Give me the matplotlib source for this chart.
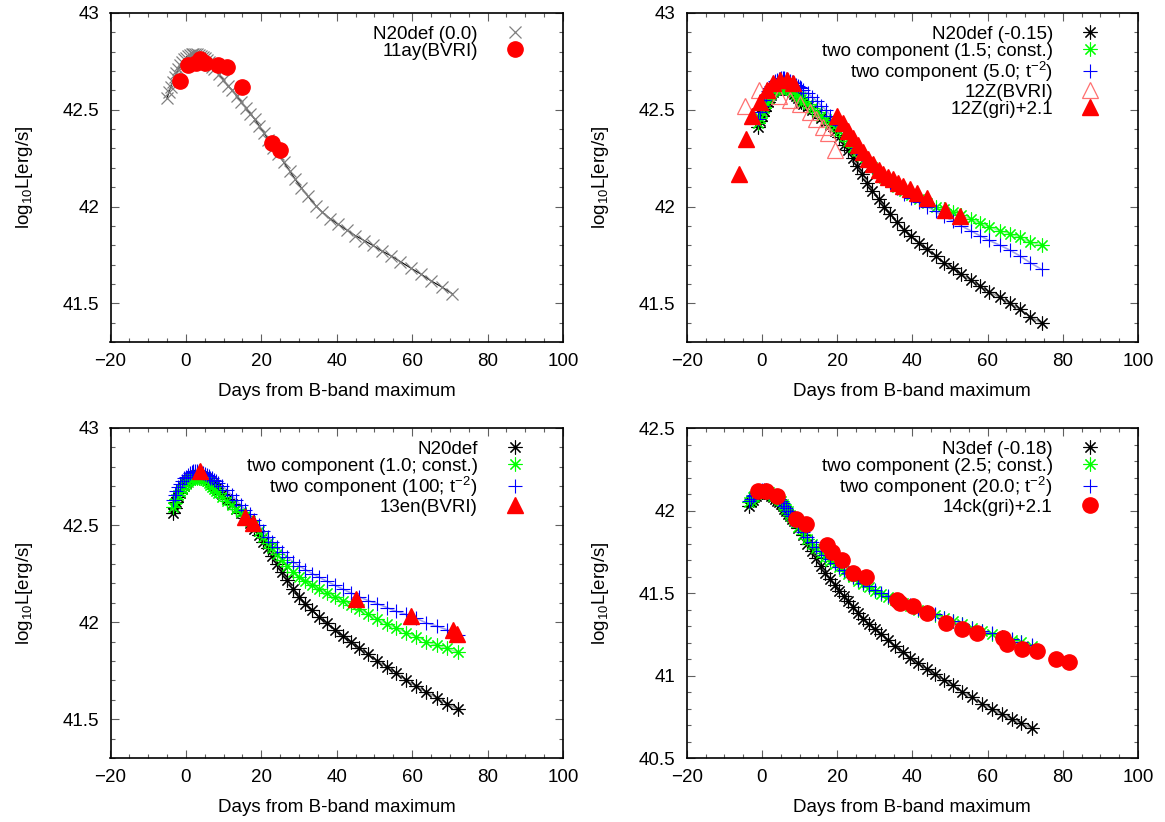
import matplotlib
matplotlib.use("Agg")
import matplotlib.pyplot as plt
from matplotlib.ticker import MultipleLocator, FuncFormatter

plt.rcParams['font.family'] = ['Liberation Sans', 'DejaVu Sans']
plt.rcParams['mathtext.fontset'] = 'custom'
plt.rcParams['mathtext.rm'] = 'Liberation Sans'
plt.rcParams['mathtext.it'] = 'Liberation Sans'
plt.rcParams['font.size'] = 13.5

# ---- panel 1: N20def vs SN 2011ay ----
t1 = [-5.0, -4.5, -4.0, -3.5, -3.0, -2.5, -2.0, -1.5, -1.0, -0.5, 0.0, 0.5, 1.0, 1.5,
      2.0, 2.5, 3.0, 3.5, 4.0, 4.5, 5.0, 5.5, 6.0, 6.5, 7.0, 7.5, 8.7, 9.9, 11.1, 12.3,
      13.5, 14.7, 15.9, 17.1, 18.3, 19.5, 20.7, 21.9, 23.2, 24.5, 25.9, 27.5, 29.0, 30.6,
      32.4, 34.4, 36.2, 38.2, 40.4, 42.7, 44.9, 47.3, 49.5, 52.0, 54.4, 56.9, 59.8, 62.4,
      65.1, 67.8, 70.6]
n20_p1 = [42.56, 42.59, 42.62, 42.645, 42.67, 42.69, 42.71, 42.73, 42.745, 42.76, 42.77,
          42.78, 42.785, 42.79, 42.79, 42.79, 42.79, 42.785, 42.78, 42.775, 42.765, 42.755,
          42.745, 42.73, 42.72, 42.71, 42.685, 42.655, 42.625, 42.60, 42.57, 42.54, 42.51,
          42.48, 42.45, 42.415, 42.38, 42.345, 42.305, 42.27, 42.23, 42.185, 42.14, 42.097,
          42.052, 42.005, 41.97, 41.938, 41.908, 41.878, 41.85, 41.824, 41.80, 41.77, 41.745,
          41.715, 41.68, 41.65, 41.615, 41.585, 41.55]
obs11ay_t = [-1.6, 0.6, 2.8, 3.7, 5.1, 8.6, 10.8, 15.0, 22.7, 24.9]
obs11ay_L = [42.65, 42.73, 42.74, 42.76, 42.74, 42.73, 42.72, 42.62, 42.33, 42.29]

# ---- panel 2: N20def / two component vs SN 2012Z ----
t2 = [-1.0, -0.5, 0.0, 0.5, 1.0, 1.5, 2.0, 2.5, 3.0, 3.5, 4.0, 4.5, 5.0, 5.5, 6.0, 6.5,
      7.0, 7.5, 8.0, 8.5, 9.0, 9.5, 10.0, 10.5, 11.0, 12.2, 13.4, 14.6, 15.8, 17.0, 18.2,
      19.4, 20.6, 21.8, 23.0, 24.2, 25.4, 26.7, 28.0, 29.4, 31.0, 32.5, 34.1, 35.9, 37.9,
      39.7, 41.7, 43.9, 46.2, 48.4, 50.8, 53.0, 55.5, 57.9, 60.4, 63.3, 65.9, 68.6, 71.3,
      74.4]
n20_p2 = [42.41, 42.44, 42.47, 42.495, 42.52, 42.54, 42.56, 42.575, 42.59, 42.60, 42.605,
          42.61, 42.615, 42.615, 42.615, 42.61, 42.605, 42.60, 42.59, 42.58, 42.57, 42.56,
          42.55, 42.54, 42.53, 42.52, 42.50, 42.48, 42.46, 42.44, 42.42, 42.39, 42.36,
          42.32, 42.29, 42.25, 42.21, 42.17, 42.12, 42.08, 42.04, 42.00, 41.96, 41.92,
          41.88, 41.85, 41.81, 41.78, 41.745, 41.71, 41.68, 41.65, 41.62, 41.59, 41.56,
          41.53, 41.50, 41.47, 41.43, 41.40]
const_p2 = [42.43, 42.46, 42.49, 42.51, 42.535, 42.555, 42.57, 42.585, 42.595, 42.605,
            42.61, 42.615, 42.62, 42.62, 42.62, 42.615, 42.61, 42.605, 42.60, 42.59, 42.58,
            42.57, 42.565, 42.555, 42.545, 42.53, 42.51, 42.49, 42.47, 42.45, 42.43, 42.415,
            42.39, 42.365, 42.34, 42.31, 42.285, 42.26, 42.23, 42.205, 42.175, 42.15, 42.125,
            42.10, 42.08, 42.06, 42.04, 42.02, 42.0, 41.985, 41.97, 41.955, 41.935, 41.915,
            41.895, 41.875, 41.86, 41.84, 41.815, 41.80]
tm2_p2 = [42.45, 42.49, 42.52, 42.55, 42.575, 42.595, 42.61, 42.625, 42.64, 42.65, 42.655,
          42.66, 42.665, 42.665, 42.665, 42.66, 42.655, 42.65, 42.645, 42.64, 42.63, 42.625,
          42.62, 42.61, 42.60, 42.585, 42.565, 42.545, 42.52, 42.50, 42.47, 42.445, 42.42,
          42.39, 42.36, 42.33, 42.30, 42.27, 42.24, 42.21, 42.18, 42.15, 42.12, 42.095,
          42.065, 42.045, 42.025, 42.0, 41.975, 41.95, 41.925, 41.90, 41.875, 41.85, 41.825,
          41.80, 41.775, 41.745, 41.71, 41.675]
obs12Z_bvri_t = [-4.5, -0.8, 4.5, 7.4, 10.1, 12.8, 14.5, 16.3, 17.7, 19.5]
obs12Z_bvri_L = [42.52, 42.60, 42.57, 42.55, 42.53, 42.49, 42.45, 42.41, 42.38, 42.29]
obs12Z_gri_t = [-6.2, -4.3, -2.7, -0.5, 1.3, 3.0, 4.8, 6.6, 8.3, 19.9, 21.5, 23.0, 24.3,
                25.6, 27.0, 28.3, 29.6, 31.0, 32.3, 33.6, 34.9, 36.3, 37.6, 39.4, 41.2,
                43.8, 48.7, 52.7]
obs12Z_gri_L = [42.17, 42.35, 42.47, 42.54, 42.60, 42.64, 42.655, 42.655, 42.64, 42.47,
                42.43, 42.39, 42.355, 42.32, 42.28, 42.245, 42.22, 42.19, 42.17, 42.155,
                42.14, 42.12, 42.105, 42.09, 42.07, 42.045, 41.98, 41.95]

# ---- panel 3: N20def / two component vs SN 2013en ----
t3 = [-3.5, -3.0, -2.5, -2.0, -1.5, -1.0, -0.5, 0.0, 0.5, 1.0, 1.5, 2.0, 2.5, 3.0, 3.5,
      4.0, 4.5, 5.0, 5.5, 6.0, 6.5, 7.0, 7.5, 8.0, 8.5, 9.7, 10.9, 12.1, 13.3, 14.5, 15.7,
      16.9, 18.1, 19.3, 20.5, 21.7, 22.9, 24.2, 25.5, 26.9, 28.4, 30.0, 31.7, 33.5, 35.4,
      37.4, 39.5, 41.6, 43.8, 46.0, 48.4, 50.8, 53.3, 55.8, 58.4, 61.1, 63.8, 66.5, 69.3,
      72.2]
n20_p3 = [42.56, 42.59, 42.62, 42.645, 42.665, 42.685, 42.70, 42.715, 42.73, 42.74, 42.75,
          42.755, 42.76, 42.76, 42.76, 42.755, 42.75, 42.745, 42.74, 42.73, 42.72, 42.71,
          42.70, 42.69, 42.68, 42.66, 42.635, 42.61, 42.585, 42.56, 42.535, 42.51, 42.48,
          42.45, 42.415, 42.38, 42.34, 42.30, 42.26, 42.215, 42.17, 42.13, 42.095, 42.06,
          42.025, 41.995, 41.96, 41.93, 41.90, 41.865, 41.835, 41.80, 41.77, 41.74, 41.70,
          41.67, 41.64, 41.61, 41.58, 41.55]
const_p3 = [42.595, 42.615, 42.635, 42.655, 42.67, 42.685, 42.70, 42.71, 42.72, 42.73,
            42.735, 42.74, 42.745, 42.745, 42.745, 42.74, 42.735, 42.73, 42.725, 42.715,
            42.705, 42.695, 42.685, 42.675, 42.665, 42.645, 42.625, 42.605, 42.585, 42.565,
            42.545, 42.52, 42.50, 42.47, 42.44, 42.41, 42.38, 42.35, 42.32, 42.29, 42.26,
            42.235, 42.21, 42.19, 42.17, 42.15, 42.13, 42.11, 42.09, 42.07, 42.04, 42.015,
            41.99, 41.97, 41.945, 41.925, 41.90, 41.88, 41.865, 41.845]
tm2_p3 = [42.63, 42.655, 42.675, 42.695, 42.71, 42.725, 42.74, 42.75, 42.76, 42.77, 42.775,
          42.78, 42.78, 42.78, 42.78, 42.775, 42.77, 42.765, 42.76, 42.755, 42.745, 42.74,
          42.73, 42.725, 42.715, 42.70, 42.68, 42.655, 42.63, 42.605, 42.58, 42.555, 42.525,
          42.50, 42.47, 42.44, 42.415, 42.385, 42.36, 42.335, 42.31, 42.29, 42.27, 42.25,
          42.23, 42.21, 42.19, 42.17, 42.15, 42.13, 42.11, 42.095, 42.075, 42.055, 42.04,
          42.02, 41.995, 41.98, 41.96, 41.935]
obs13en_t = [3.7, 15.7, 17.9, 45.1, 59.7, 70.7, 71.9]
obs13en_L = [42.78, 42.54, 42.51, 42.12, 42.03, 41.96, 41.94]

# ---- panel 4: N3def / two component vs SN 2014ck ----
t4 = [-3.5, -3.0, -2.5, -2.0, -1.5, -1.0, -0.5, 0.0, 0.5, 1.0, 1.5, 2.0, 2.5, 3.0, 3.5,
      4.0, 4.5, 5.0, 5.5, 6.0, 6.5, 7.0, 7.5, 8.0, 8.5, 9.7, 10.9, 12.1, 13.3, 14.5, 15.7,
      16.9, 18.1, 19.3, 20.5, 21.7, 22.9, 24.2, 25.5, 26.9, 28.4, 30.0, 31.7, 33.5, 35.4,
      37.4, 39.5, 41.6, 43.8, 46.0, 48.4, 50.8, 53.3, 55.8, 58.4, 61.1, 63.8, 66.5, 69.0,
      71.7]
n3_p4 = [42.03, 42.05, 42.065, 42.08, 42.09, 42.10, 42.105, 42.11, 42.11, 42.11, 42.105,
         42.10, 42.09, 42.08, 42.07, 42.06, 42.05, 42.04, 42.025, 42.01, 41.995, 41.98,
         41.965, 41.95, 41.935, 41.895, 41.85, 41.80, 41.755, 41.71, 41.665, 41.62, 41.585,
         41.55, 41.515, 41.48, 41.45, 41.415, 41.38, 41.34, 41.31, 41.28, 41.25, 41.215,
         41.18, 41.145, 41.105, 41.075, 41.04, 41.01, 40.975, 40.94, 40.90, 40.87, 40.83,
         40.80, 40.765, 40.735, 40.71, 40.68]
const_p4 = [42.05, 42.065, 42.08, 42.09, 42.10, 42.11, 42.115, 42.12, 42.12, 42.12, 42.115,
            42.11, 42.10, 42.09, 42.085, 42.075, 42.065, 42.055, 42.04, 42.025, 42.01,
            41.995, 41.975, 41.96, 41.94, 41.90, 41.86, 41.83, 41.80, 41.77, 41.745, 41.72,
            41.695, 41.675, 41.655, 41.635, 41.615, 41.595, 41.575, 41.555, 41.535, 41.515,
            41.495, 41.475, 41.455, 41.44, 41.42, 41.40, 41.385, 41.365, 41.35, 41.33, 41.31,
            41.29, 41.27, 41.25, 41.235, 41.215, 41.20, 41.18]
tm2_p4 = [42.055, 42.07, 42.085, 42.095, 42.105, 42.115, 42.12, 42.125, 42.125, 42.125,
          42.12, 42.115, 42.105, 42.095, 42.09, 42.08, 42.07, 42.06, 42.045, 42.03, 42.015,
          42.0, 41.98, 41.965, 41.945, 41.905, 41.87, 41.84, 41.81, 41.78, 41.755, 41.73,
          41.705, 41.68, 41.66, 41.64, 41.62, 41.60, 41.58, 41.56, 41.54, 41.52, 41.50,
          41.48, 41.46, 41.44, 41.425, 41.405, 41.385, 41.37, 41.35, 41.33, 41.31, 41.29,
          41.27, 41.255, 41.235, 41.22, 41.20, 41.185]
obs14ck_t = [-1.0, 1.1, 3.9, 9.1, 11.7, 17.2, 18.6, 21.2, 24.1, 27.6, 35.8, 36.7, 40.1,
             44.0, 48.9, 53.1, 57.1, 64.0, 65.1, 69.1, 73.2, 78.2, 81.7]
obs14ck_L = [42.12, 42.12, 42.09, 41.95, 41.92, 41.79, 41.75, 41.70, 41.62, 41.60, 41.46,
             41.44, 41.42, 41.38, 41.32, 41.28, 41.26, 41.23, 41.19, 41.16, 41.15, 41.10,
             41.08]

ASTER = (8, 2, 0)
RED = '#ff0000'
GREEN = '#00ff00'
BLUE = '#0000ff'


def model(ax, t, L, color, ghost, marker, label, ms=10):
    ax.plot(t, L, '-', color=ghost, lw=1.2, zorder=2)
    ax.plot(t, L, ls='none', marker=marker, ms=ms, mew=0.8, color=color,
            label=label, zorder=3)


def style(ax, ylim, yticks):
    ax.set_xlim(-20, 100)
    ax.set_ylim(*ylim)
    ax.set_xticks(range(-20, 101, 20))
    ax.set_yticks(yticks)
    ax.xaxis.set_minor_locator(MultipleLocator(5))
    ax.yaxis.set_minor_locator(MultipleLocator(0.1))
    ax.yaxis.set_major_formatter(FuncFormatter(lambda v, p: '%g' % round(v, 2)))
    ax.tick_params(which='both', direction='in', top=True, right=True,
                   width=0.8, color='#606060')
    ax.tick_params(which='major', length=6)
    ax.tick_params(which='minor', length=3)
    ax.tick_params(axis='x', pad=8)
    ax.tick_params(axis='y', pad=8)
    for s in ax.spines.values():
        s.set_linewidth(1.2)
    ax.set_xlabel('Days from B-band maximum', labelpad=9)
    ax.set_ylabel('log$_{10}$L[erg/s]', labelpad=20)


def legend(ax):
    leg = ax.legend(loc='upper right', bbox_to_anchor=(0.94, 0.985), borderaxespad=0,
                    frameon=False, markerfirst=False, handlelength=1.4,
                    handletextpad=1.3, labelspacing=0.0)
    for col in leg._legend_box.get_children()[1].get_children():
        col.align = 'right'
    return leg


fig = plt.figure(figsize=(11.65, 8.22), dpi=100)
W, H = 1165.0, 822.0
ax1 = fig.add_axes([110.5 / W, 1 - 342 / H, 452.5 / W, 329 / H])
ax2 = fig.add_axes([686.7 / W, 1 - 342 / H, 451.3 / W, 329 / H])
ax3 = fig.add_axes([110.5 / W, 1 - 758 / H, 452.5 / W, 330 / H])
ax4 = fig.add_axes([686.7 / W, 1 - 758 / H, 451.3 / W, 330 / H])

# panel 1
ax1.plot(t1, n20_p1, '-', color='black', lw=0.8, zorder=2)
ax1.plot(t1, n20_p1, ls='none', marker='x', ms=8, mew=0.9, color='#808080',
         label='N20def (0.0)', zorder=3)
ax1.plot(obs11ay_t, obs11ay_L, 'o', color=RED, ms=11, label='11ay(BVRI)', zorder=4)
style(ax1, (41.3, 43.0), [41.5, 42, 42.5, 43])
legend(ax1)

# panel 2
model(ax2, t2, n20_p2, 'black', '#a0a0a0', ASTER, 'N20def (-0.15)')
model(ax2, t2, const_p2, GREEN, '#a0f0a0', ASTER, 'two component (1.5; const.)')
model(ax2, t2, tm2_p2, BLUE, '#a0a0f0', '+', 'two component (5.0; t$^{-2}$)')
ax2.plot(obs12Z_bvri_t, obs12Z_bvri_L, '^', ms=11, mfc='none', mec='#ff7070', mew=0.9,
         label='12Z(BVRI)', zorder=4)
ax2.plot(obs12Z_gri_t, obs12Z_gri_L, '^', ms=11, color=RED, label='12Z(gri)+2.1', zorder=5)
style(ax2, (41.3, 43.0), [41.5, 42, 42.5, 43])
legend(ax2)

# panel 3
model(ax3, t3, n20_p3, 'black', '#a0a0a0', ASTER, 'N20def')
model(ax3, t3, const_p3, GREEN, '#a0f0a0', ASTER, 'two component (1.0; const.)')
model(ax3, t3, tm2_p3, BLUE, '#a0a0f0', '+', 'two component (100; t$^{-2}$)')
ax3.plot(obs13en_t, obs13en_L, '^', ms=11, color=RED, label='13en(BVRI)', zorder=5)
style(ax3, (41.3, 43.0), [41.5, 42, 42.5, 43])
legend(ax3)

# panel 4
model(ax4, t4, n3_p4, 'black', '#a0a0a0', ASTER, 'N3def (-0.18)')
model(ax4, t4, const_p4, GREEN, '#a0f0a0', ASTER, 'two component (2.5; const.)')
model(ax4, t4, tm2_p4, BLUE, '#a0a0f0', '+', 'two component (20.0; t$^{-2}$)')
ax4.plot(obs14ck_t, obs14ck_L, 'o', color=RED, ms=11, label='14ck(gri)+2.1', zorder=5)
style(ax4, (40.5, 42.5), [40.5, 41, 41.5, 42, 42.5])
legend(ax4)

fig.savefig('out.png', dpi=100)
